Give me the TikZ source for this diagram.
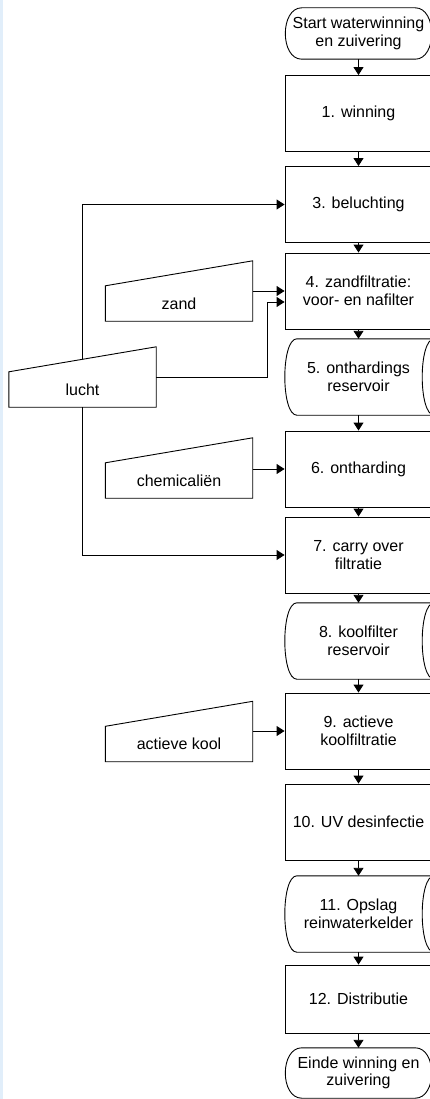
\documentclass[tikz,border=0pt]{standalone}
\usepackage{fontspec}
\setmainfont{Liberation Sans}
\usetikzlibrary{arrows.meta}
\usepackage{xcolor}
\definecolor{randblauw}{RGB}{225,238,250}

\begin{document}
\begin{tikzpicture}[x=1pt,y=-1pt,font=\fontsize{16}{17.5}\selectfont,
 lijn/.style={black, line width=.9pt},
 stap/.style={lijn, draw, minimum width=147pt, minimum height=76pt, align=center, inner sep=0pt},
 opslag/.style={minimum width=147pt, minimum height=76pt, align=center, inner sep=0pt},
 eind/.style={minimum width=147pt, minimum height=51pt, align=center, inner sep=0pt},
 invoer/.style={minimum width=147pt, minimum height=35pt, align=center, inner sep=0pt},
 pijl/.style={lijn, -{Triangle[length=8pt,width=10pt]}}]
\useasboundingbox (0,0) rectangle (430,1099);
\fill[randblauw] (0,0) rectangle (3,1099);
% hoofdlijn
\node[eind]   (start) at (358.5,33.5) {Start waterwinning\\en zuivering};
\node[stap]   (b1)  at (358.5,113.5) {1. winning};
\node[stap]   (b3)  at (358.5,204.5) {3. beluchting};
\node[stap]   (b4)  at (358.5,291)   {4. zandfiltratie:\\voor- en nafilter};
\node[opslag] (r5)  at (358.5,377)   {5. onthardings\\reservoir};
\node[stap]   (b6)  at (358.5,469)   {6. ontharding};
\node[stap]   (b7)  at (358.5,555)   {7. carry over\\filtratie};
\node[opslag] (r8)  at (358.5,641)   {8. koolfilter\\reservoir};
\node[stap]   (b9)  at (358.5,731)   {9. actieve\\koolfiltratie};
\node[stap]   (b10) at (358.5,822)   {10. UV desinfectie};
\node[opslag] (r11) at (358.5,914)   {11. Opslag\\reinwaterkelder};
\node[stap, minimum height=68pt] (b12) at (358.5,999) {12. Distributie};
\node[eind, minimum height=50pt] (einde) at (358.5,1073) {Einde winning en\\zuivering};
% invoer
\node[invoer] (zand)  at (179,303.5) {zand};
\node[invoer] (lucht) at (82.5,389.5) {lucht};
\node[invoer] (chem)  at (179,480.5) {chemicali\"en};
\node[invoer] (kool)  at (179,744)   {actieve kool};
\foreach \n in {start,einde}
 \draw[lijn] ([xshift=17pt]\n.north west) .. controls ([xshift=-5pt]\n.north west) and ([xshift=-5pt]\n.south west) .. ([xshift=17pt]\n.south west)
   -- ([xshift=-17pt]\n.south east) .. controls ([xshift=5pt]\n.south east) and ([xshift=5pt]\n.north east) .. ([xshift=-17pt]\n.north east) -- cycle;
\foreach \n in {r5,r8,r11}
 \draw[lijn] ([xshift=12pt]\n.north west) .. controls ([xshift=-4pt]\n.north west) and ([xshift=-4pt]\n.south west) .. ([xshift=12pt]\n.south west)
   -- ([xshift=2pt]\n.south east) .. controls ([xshift=-14pt]\n.south east) and ([xshift=-14pt]\n.north east) .. ([xshift=2pt]\n.north east) -- cycle;
\foreach \n in {zand,lucht,chem,kool}
 \draw[lijn] (\n.south west) -- (\n.north west) -- ([yshift=25pt]\n.north east) -- (\n.south east) -- cycle;
% pijlen
\foreach \a/\b in {start/b1,b1/b3,b3/b4,b4/r5,r5/b6,b6/b7,b7/r8,r8/b9,b9/b10,b10/r11,r11/b12,b12/einde}
 \draw[pijl] (\a.south) -- (\b.north);
\draw[pijl] (zand.east |- b4.west) -- (b4.west);
\draw[pijl] (chem.east |- b6.west) -- (b6.west);
\draw[pijl] (kool.east |- b9.west) -- (b9.west);
\draw[pijl] ([yshift=12.5pt]lucht.east) -- ++(111,0) |- ([yshift=-11pt]b4.west);
\draw[pijl] ([yshift=12.5pt]lucht.north) |- (b3.west);
\draw[pijl] (lucht.south) |- (b7.west);
\end{tikzpicture}
\end{document}
